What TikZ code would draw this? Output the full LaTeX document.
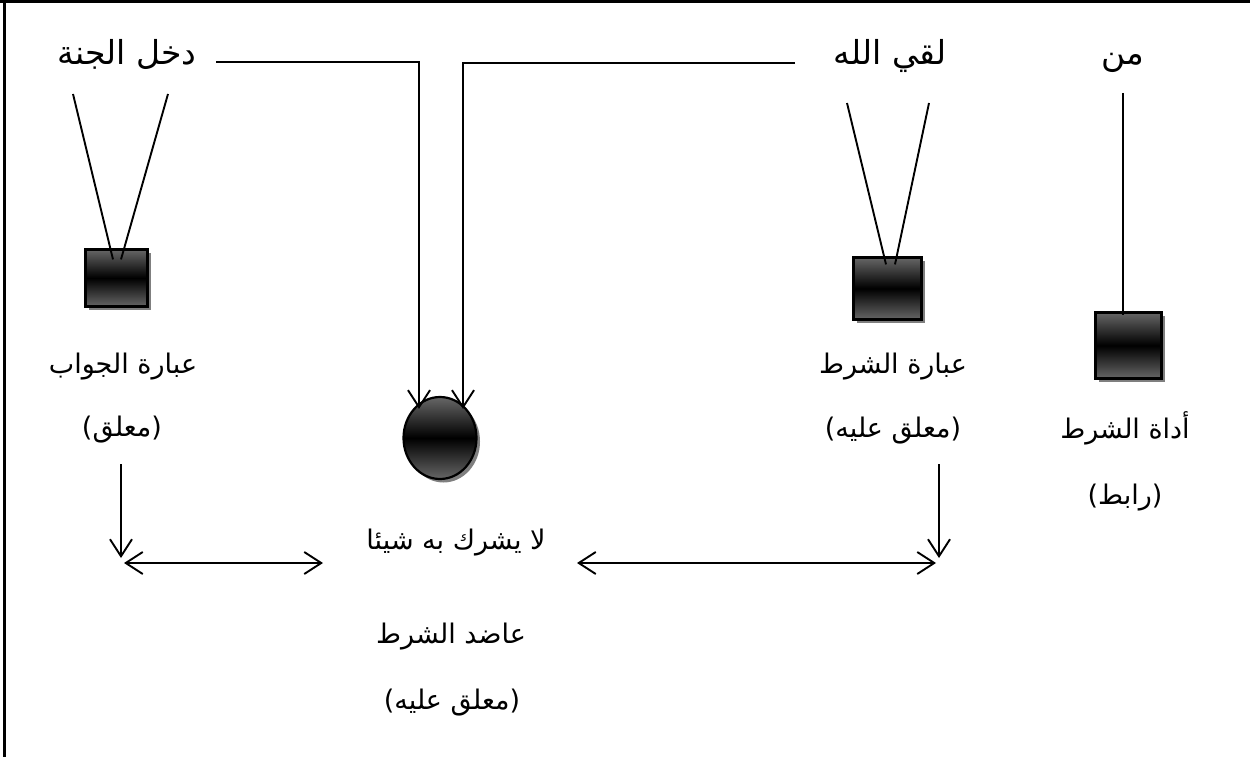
\documentclass[tikz,border=0pt]{standalone}
\usepackage{fontspec}
\usetikzlibrary{arrows.meta,shadows,shapes.geometric}
\TeXXeTstate=1
\newfontfamily\arabicfont[Script=Arabic]{DejaVu Sans}
\newfontfamily\parenfont{DejaVu Sans}
\newcommand{\rtl}[1]{{\arabicfont\beginR #1\endR}}
\newcommand{\lp}{{\parenfont(}}
\newcommand{\rp}{{\parenfont)}}
\tikzset{
  toplabel/.style={font=\fontsize{33}{40}\selectfont, inner sep=0pt, anchor=base},
  lowlabel/.style={font=\fontsize{27}{32}\selectfont, inner sep=0pt, anchor=base},
  conn/.style={line width=1.9pt},
  arr/.style={conn, -{Straight Barb[length=17pt,width=22pt]}},
  darr/.style={conn, {Straight Barb[length=17pt,width=22pt]}-{Straight Barb[length=17pt,width=22pt]}},
  gloss/.style={draw=black, line width=2.2pt, top color=black!60, bottom color=black!60, middle color=black,
    drop shadow={shadow xshift=3.5pt, shadow yshift=-3.5pt, fill=black, opacity=0.5}},
  box/.style={gloss, rectangle, inner sep=0pt},
  ball/.style={gloss, ellipse, inner sep=0pt},
  frameline/.style={line width=2.4pt}
}
\begin{document}
\begin{tikzpicture}[x=1pt,y=-1pt]
\useasboundingbox (0,0) rectangle (1250,757);
% frame
\coordinate (f1) at (0,1.5);
\coordinate (f2) at (1250,1.5);
\coordinate (f3) at (4.5,0);
\coordinate (f4) at (4.5,757);
\draw[frameline] (f1) -- (f2);
\draw[frameline] (f3) -- (f4);

% top labels
\node[toplabel] (t1) at (127,65) {\rtl{دخل الجنة}};
\node[toplabel] (t2) at (890,65) {\rtl{لقي الله}};
\node[toplabel] (t3) at (1123,65) {\rtl{من}};

% glossy shapes
\node[box, minimum width=62pt, minimum height=57pt] (sqL) at (116.5,278) {};
\node[box, minimum width=68pt, minimum height=62pt] (sqM) at (887.5,288.5) {};
\node[box, minimum width=66pt, minimum height=66pt] (sqR) at (1128.5,345.5) {};
\node[ball, minimum width=73pt, minimum height=82pt] (circ) at (440,438) {};

% lower labels
\node[lowlabel] (l1) at (123,373) {\rtl{عبارة الجواب}};
\node[lowlabel] (l2) at (122,436) {\lp\rtl{معلق}\rp};
\node[lowlabel] (m0) at (456,549) {\rtl{لا يشرك به شيئا}};
\node[lowlabel] (m1) at (451,643) {\rtl{عاضد الشرط}};
\node[lowlabel] (m2) at (452,709) {\lp\rtl{معلق عليه}\rp};
\node[lowlabel] (r1) at (893,373) {\rtl{عبارة الشرط}};
\node[lowlabel] (r2) at (893,437) {\lp\rtl{معلق عليه}\rp};
\node[lowlabel] (p1) at (1125,438) {\rtl{أداة الشرط}};
\node[lowlabel] (p2) at (1125,504) {\lp\rtl{رابط}\rp};

% V lines
\coordinate (vL1) at (73,94);
\coordinate (vL2) at (168,94);
\draw[conn] (vL1) -- ([xshift=-3.5pt,yshift=-11pt]sqL.north);
\draw[conn] (vL2) -- ([xshift=4.5pt,yshift=-11pt]sqL.north);
\coordinate (vM1) at (847,103);
\coordinate (vM2) at (929,103);
\draw[conn] (vM1) -- ([xshift=-1.5pt,yshift=-8pt]sqM.north);
\draw[conn] (vM2) -- ([xshift=7.5pt,yshift=-8pt]sqM.north);
\coordinate (vR) at (1123,93);
\draw[conn] (vR) -- ([xshift=-5.5pt,yshift=-4pt]sqR.north);

% arrows into the circle
\coordinate (c1) at (216,62);
\coordinate (c2) at (795,63);
\draw[arr] (c1) -| ([xshift=-21pt,yshift=-13pt]circ.north);
\draw[arr] (c2) -| ([xshift=23pt,yshift=-13pt]circ.north);

% bottom arrows
\coordinate (aL1) at (121,464);
\coordinate (aL2) at (121,558);
\draw[arr] (aL1) -- (aL2);
\coordinate (hL1) at (124,563);
\coordinate (hL2) at (323,563);
\draw[darr] (hL1) -- (hL2);
\coordinate (hR1) at (577,563);
\coordinate (hR2) at (936,563);
\draw[darr] (hR1) -- (hR2);
\coordinate (aR1) at (939,464);
\coordinate (aR2) at (939,558);
\draw[arr] (aR1) -- (aR2);
\end{tikzpicture}
\end{document}
